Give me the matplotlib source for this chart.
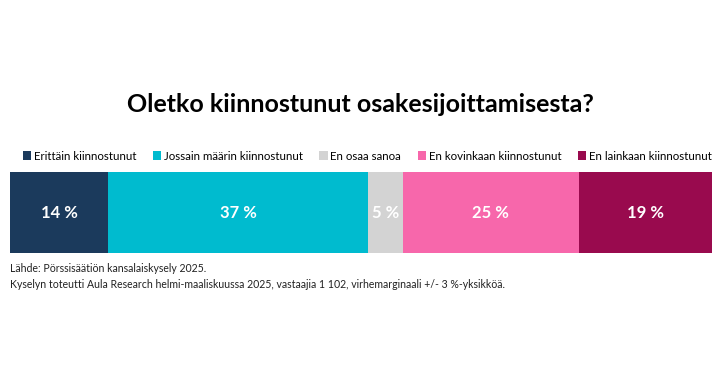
import matplotlib
matplotlib.use("Agg")
import matplotlib.pyplot as plt
from matplotlib.patches import Patch

categories = ["Erittäin kiinnostunut", "Jossain määrin kiinnostunut", "En osaa sanoa",
              "En kovinkaan kiinnostunut", "En lainkaan kiinnostunut"]
values = [14, 37, 5, 25, 19]
colors = ["#1B3A5C", "#00BBCF", "#D3D3D3", "#F767AB", "#990A4E"]
title = "Oletko kiinnostunut osakesijoittamisesta?"
source_lines = ["Lähde: Pörssisäätiön kansalaiskysely 2025.",
                "Kyselyn toteutti Aula Research helmi-maaliskuussa 2025, vastaajia 1 102, virhemarginaali +/- 3 %-yksikköä."]

plt.rcParams['font.family'] = ['Lato', 'DejaVu Sans']

W, H = 720, 387
fig = plt.figure(figsize=(W/100, H/100), dpi=100)
fig.patch.set_facecolor("white")
ax = fig.add_axes([10/W, 1-253/H, 702/W, 81/H])

left = 0
for cat, v, c in zip(categories, values, colors):
    ax.barh(0, v, left=left, height=1.0, color=c, edgecolor="none")
    ax.text(left + v/2, 0, f"{v} %", ha="center", va="center", color="white",
            fontsize=12, fontweight="bold")
    left += v
ax.set_xlim(0, sum(values))
ax.set_ylim(-0.5, 0.5)
ax.axis("off")

fig.text(0.5, 1-104/H, title, ha="center", va="center", fontsize=18, fontweight="bold", color="black")

handles = [Patch(facecolor=c, edgecolor="none", label=cat) for cat, c in zip(categories, colors)]
fig.legend(handles=handles, loc="center right", bbox_to_anchor=(712/W, 1-156/H), ncol=5, frameon=False,
           fontsize=8.3, handlelength=0.7, handleheight=0.7, handletextpad=0.25, columnspacing=1.45,
           borderaxespad=0, borderpad=0)

fig.text(10/W, 1-269/H, source_lines[0], ha="left", va="center", fontsize=7.6, color="#222222")
fig.text(10/W, 1-284/H, source_lines[1], ha="left", va="center", fontsize=7.6, color="#222222")

fig.savefig("out.png", dpi=100, facecolor="white")
